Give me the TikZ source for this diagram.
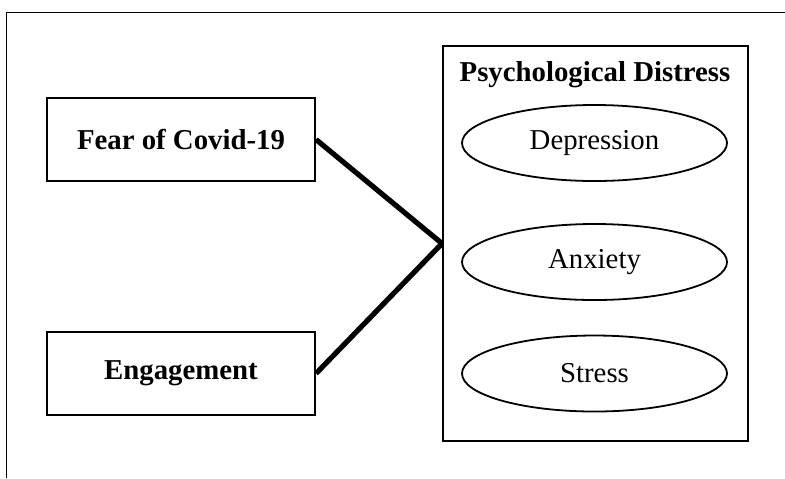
\documentclass[tikz,border=0pt]{standalone}
\usepackage{fontspec}
\setmainfont{Liberation Serif}
\usetikzlibrary{shapes.geometric}
\tikzset{
  varbox/.style={draw, line width=1pt, minimum width=134pt, minimum height=41.5pt, font=\fontsize{14.4}{17}\selectfont\bfseries},
  facet/.style={draw, ellipse, line width=0.9pt, minimum width=132.5pt, minimum height=38pt, font=\fontsize{14.4}{17}\selectfont},
  link/.style={line width=2.6pt}
}

\begin{document}
\begin{tikzpicture}[x=0.5pt, y=-0.5pt]
  \useasboundingbox (0,0) rectangle (785,478);
  % frame
  \draw[line width=0.75pt] (6.5,478) -- (6.5,12.5) -- (785,12.5);

  \node[varbox] (fear) at (181,139.5) {Fear of Covid-19};
  \node[varbox] (engage) at (181,373.5) {Engagement};

  \node[draw, line width=1pt, minimum width=152.5pt, minimum height=197.5pt] (distress) at (595.5,243.5) {};
  \node[font=\fontsize{14.4}{17}\selectfont\bfseries] (title) at (595,75) {Psychological Distress};
  \node[facet] (dep) at (594.5,143) {Depression};
  \node[facet] (anx) at (594.5,262) {Anxiety};
  \node[facet] (str) at (594.5,373.5) {Stress};

  \draw[link] (fear.east) -- (distress.west);
  \draw[link] (engage.east) -- (distress.west);
\end{tikzpicture}
\end{document}
